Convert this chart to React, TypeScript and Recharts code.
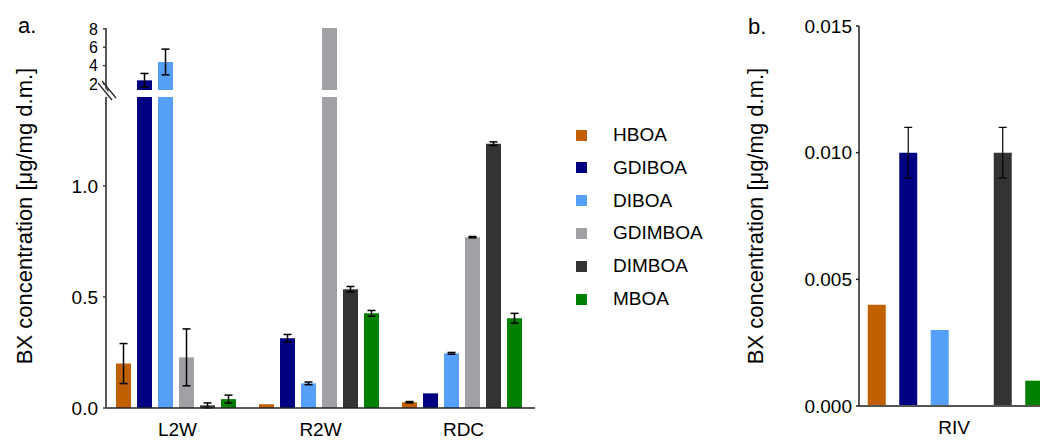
import React from 'react';
import { BarChart, Bar, XAxis, YAxis, ErrorBar } from 'recharts';

// ---- data ----
const categoriesA = ['L2W', 'R2W', 'RDC'];
const categoriesB = ['RIV'];
const seriesNames = ['HBOA', 'GDIBOA', 'DIBOA', 'GDIMBOA', 'DIMBOA', 'MBOA'];
const seriesColors = ['#C06000', '#000080', '#56A0FA', '#A0A0A5', '#333333', '#008000'];

const hboaA = [0.2, 0.017, 0.026];
const gdiboaA = [2.4, 0.314, 0.066];
const diboaA = [4.4, 0.111, 0.246];
const gdimboaA = [0.228, 8.1, 0.769];
const dimboaA = [0.012, 0.535, 1.19];
const mboaA = [0.04, 0.426, 0.404];

const hboaErrA = [0.09, 0, 0.003];
const gdiboaErrA = [0.75, 0.017, 0];
const diboaErrA = [1.4, 0.006, 0.004];
const gdimboaErrA = [0.128, 0, 0.003];
const dimboaErrA = [0.011, 0.012, 0.008];
const mboaErrA = [0.018, 0.013, 0.022];

const hboaB = [0.004];
const gdiboaB = [0.01];
const diboaB = [0.003];
const gdimboaB = [null];
const dimboaB = [0.01];
const mboaB = [0.001];

const gdiboaErrB = [0.001];
const dimboaErrB = [0.001];

const lowerTicks = [0, 0.5, 1.0];
const upperTicks = [2, 4, 6, 8];
const ticksB = [0, 0.005, 0.01, 0.015];
const LOWER_MAX = 1.4;
const UPPER_MIN = 1.35;
const UPPER_MAX = 8.1;

const valuesA = [hboaA, gdiboaA, diboaA, gdimboaA, dimboaA, mboaA];
const errsA = [hboaErrA, gdiboaErrA, diboaErrA, gdimboaErrA, dimboaErrA, mboaErrA];
const valuesB = [hboaB, gdiboaB, diboaB, gdimboaB, dimboaB, mboaB];
const errsB: (number[] | null)[] = [null, gdiboaErrB, null, null, dimboaErrB, null];

const lowerData = categoriesA.map((c, i) => {
  const r: any = { cat: c };
  seriesNames.forEach((s, k) => {
    const v = valuesA[k][i];
    r[s] = v;
    r[s + '_err'] = v > LOWER_MAX ? null : errsA[k][i] || null;
  });
  return r;
});

const upperData = categoriesA.map((c, i) => {
  const r: any = { cat: c };
  seriesNames.forEach((s, k) => {
    const v = valuesA[k][i];
    r[s] = v > LOWER_MAX ? v : null;
    r[s + '_err'] = v > LOWER_MAX ? errsA[k][i] || null : null;
  });
  return r;
});

const dataB = categoriesB.map((c, i) => {
  const r: any = { cat: c };
  seriesNames.forEach((s, k) => {
    r[s] = valuesB[k][i];
    const e = errsB[k];
    r[s + '_err'] = e ? e[i] : null;
  });
  return r;
});

const FONT = '"Liberation Sans", Arial, sans-serif';
const tickStyle = { fontSize: 19, fill: '#000', fontFamily: FONT };
const upperTickStyle = { fontSize: 16, fill: '#000', fontFamily: FONT };

export default function App() {
  const renderBars = (errWidth: number, errStroke: number) =>
    seriesNames.map((s, k) => (
      <Bar key={s} dataKey={s} fill={seriesColors[k]} isAnimationActive={false}>
        <ErrorBar dataKey={s + '_err'} width={errWidth} stroke="#000" strokeWidth={errStroke} direction="y" />
      </Bar>
    ));

  return (
    <div style={{ position: 'fixed', left: 0, top: 0, width: 1040, height: 440, overflow: 'hidden', background: '#fff', fontFamily: FONT }}>
      {/* Panel a - lower segment */}
      <div style={{ position: 'absolute', left: 0, top: 0 }}>
        <BarChart
          width={560}
          height={440}
          data={lowerData}
          margin={{ top: 97, right: 25, bottom: 0, left: 46 }}
          barCategoryGap="7%"
          barGap={6}
        >
          <XAxis
            dataKey="cat"
            tickLine={false}
            tickSize={0}
            tickMargin={15}
            height={32}
            tick={tickStyle}
            axisLine={{ stroke: '#222', strokeWidth: 1.5 }}
          />
          <YAxis
            width={60}
            domain={[0, LOWER_MAX]}
            allowDataOverflow
            ticks={lowerTicks}
            interval={0}
            tickFormatter={(v: number) => v.toFixed(1)}
            tickSize={3}
            tickMargin={5}
            tick={tickStyle}
            axisLine={{ stroke: '#444', strokeWidth: 1.8 }}
            tickLine={{ stroke: '#444', strokeWidth: 1.5 }}
          />
          {renderBars(4, 1.5)}
        </BarChart>
      </div>
      {/* Panel a - upper segment */}
      <div style={{ position: 'absolute', left: 0, top: 0 }}>
        <BarChart
          width={560}
          height={100}
          data={upperData}
          margin={{ top: 28, right: 25, bottom: 10, left: 46 }}
          barCategoryGap="7%"
          barGap={6}
        >
          <XAxis dataKey="cat" hide />
          <YAxis
            width={60}
            domain={[UPPER_MIN, UPPER_MAX]}
            allowDataOverflow
            ticks={upperTicks}
            interval={0}
            tickSize={3}
            tickMargin={5}
            tick={upperTickStyle}
            axisLine={{ stroke: '#444', strokeWidth: 1.8 }}
            tickLine={{ stroke: '#444', strokeWidth: 1.5 }}
          />
          {renderBars(4, 1.5)}
        </BarChart>
      </div>
      {/* Panel b */}
      <div style={{ position: 'absolute', left: 740, top: 0 }}>
        <BarChart
          width={320}
          height={440}
          data={dataB}
          margin={{ top: 26, right: 11, bottom: 0, left: 39 }}
          barCategoryGap="4.6%"
          barGap={13.5}
        >
          <XAxis
            dataKey="cat"
            tickLine={false}
            tickSize={0}
            tickMargin={15}
            height={34}
            tick={tickStyle}
            axisLine={{ stroke: '#555', strokeWidth: 1.8 }}
          />
          <YAxis
            width={80}
            domain={[0, 0.015]}
            ticks={ticksB}
            interval={0}
            tickFormatter={(v: number) => v.toFixed(3)}
            tickSize={3}
            tickMargin={4}
            tick={tickStyle}
            axisLine={{ stroke: '#222', strokeWidth: 1.5 }}
            tickLine={{ stroke: '#222', strokeWidth: 1.5 }}
          />
          {renderBars(4, 1.2)}
        </BarChart>
      </div>
      {/* Legend */}
      {seriesNames.map((s, k) => (
        <div key={s} style={{ position: 'absolute', left: 576, top: 135 + k * 32.8 - 12, height: 24, display: 'flex', alignItems: 'center' }}>
          <div style={{ width: 11, height: 11, background: seriesColors[k] }} />
          <div style={{ marginLeft: 26, fontSize: 19, lineHeight: '24px', color: '#000' }}>{s}</div>
        </div>
      ))}
      {/* Decorations */}
      <svg width={1040} height={440} style={{ position: 'absolute', left: 0, top: 0, pointerEvents: 'none' }}>
        <line x1={107.5} y1={89} x2={107.5} y2={98} stroke="#444" strokeWidth={1.8} />
        <line x1={98} y1={83} x2={112} y2={100} stroke="#fff" strokeWidth={4} />
        <line x1={98} y1={83} x2={112} y2={100} stroke="#222" strokeWidth={1.2} />
        <line x1={102} y1={81} x2={116} y2={98} stroke="#222" strokeWidth={1.2} />
        <text x={18} y={33} fontSize={22} fontFamily={FONT} fill="#000">a.</text>
        <text x={748} y={34} fontSize={22} fontFamily={FONT} fill="#000">b.</text>
        <text
          transform="translate(32,216) rotate(-90)"
          textAnchor="middle"
          fontSize={22}
          fontFamily={FONT}
          fill="#000"
        >
          BX concentration [μg/mg d.m.]
        </text>
        <text
          transform="translate(763,216) rotate(-90)"
          textAnchor="middle"
          fontSize={22}
          fontFamily={FONT}
          fill="#000"
        >
          BX concentration [μg/mg d.m.]
        </text>
      </svg>
    </div>
  );
}
